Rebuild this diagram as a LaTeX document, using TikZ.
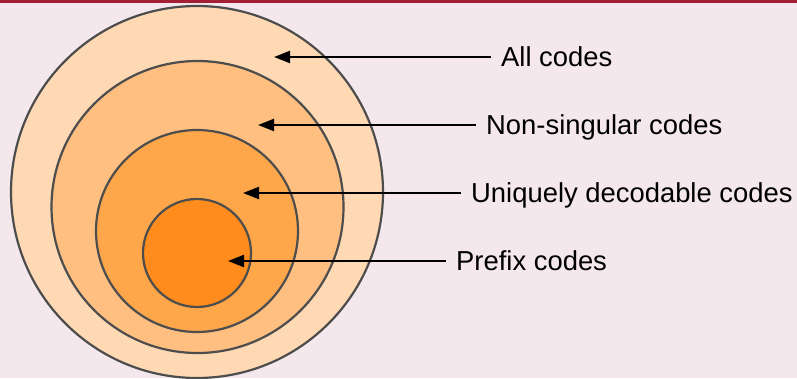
\documentclass[tikz,border=0pt]{standalone}
\usepackage{fontspec}
\setmainfont{Liberation Sans}
\usetikzlibrary{arrows.meta}
\definecolor{bg}{HTML}{F4E8EC}
\definecolor{bar}{HTML}{A31F36}
\definecolor{ring}{HTML}{4D4D4D}
\definecolor{fa}{HTML}{FED9B3}
\definecolor{fb}{HTML}{FEBF80}
\definecolor{fc}{HTML}{FEA64A}
\definecolor{fd}{HTML}{FF8C1C}
\tikzset{
  setcircle/.style={circle, draw=ring, line width=2.2pt, inner sep=0pt},
  label text/.style={anchor=west, inner xsep=10pt, inner ysep=0pt,
    text height=19.6pt, text depth=0pt, font=\fontsize{27.4}{32}\selectfont},
  pointer/.style={line width=2.2pt, -{Triangle[length=16pt,width=12pt]}}
}
\begin{document}
\begin{tikzpicture}[x=1pt,y=-1pt]
  \useasboundingbox (0,0) rectangle (797,378);
  \fill[bg] (0,0) rectangle (797,378);
  \fill[bar] (0,0) rectangle (797,3);
  \begin{scope}
    \clip (0,3) rectangle (797,378);
    \node[setcircle, fill=fa, minimum size=372pt] (c1) at (197,192) {};
    \node[setcircle, fill=fb, minimum size=292pt] (c2) at (197.5,207) {};
    \node[setcircle, fill=fc, minimum size=202pt] (c3) at (197,231) {};
    \node[setcircle, fill=fd, minimum size=108pt] (c4) at (197,253) {};
  \end{scope}
  \coordinate (t1) at (274,57);
  \coordinate (t2) at (258,125);
  \coordinate (t3) at (243,193);
  \coordinate (t4) at (228,261);
  \node[label text] (l1) at (491,57) {All codes};
  \node[label text] (l2) at (476,125) {Non-singular codes};
  \node[label text] (l3) at (461,193) {Uniquely decodable codes};
  \node[label text] (l4) at (446,261) {Prefix codes};
  \draw[pointer] (l1.west) -- (t1);
  \draw[pointer] (l2.west) -- (t2);
  \draw[pointer] (l3.west) -- (t3);
  \draw[pointer] (l4.west) -- (t4);
\end{tikzpicture}
\end{document}
